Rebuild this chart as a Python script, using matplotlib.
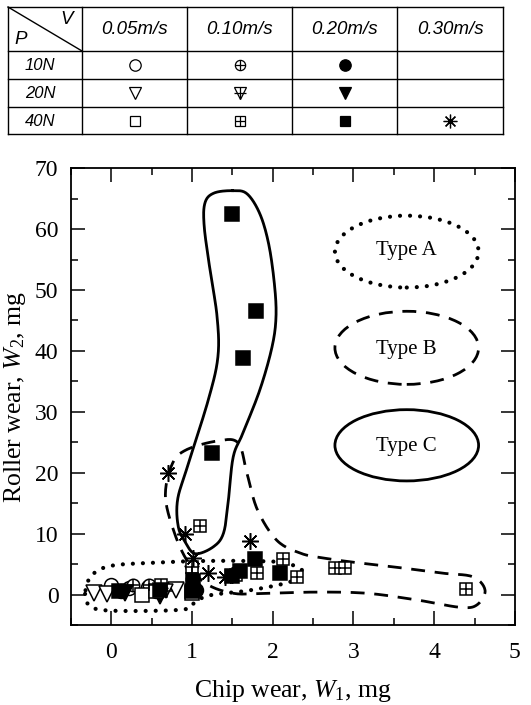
import numpy as np
import matplotlib.pyplot as plt
from matplotlib.patches import Ellipse

plt.rcParams['font.family'] = 'Liberation Serif'
plt.rcParams['mathtext.fontset'] = 'custom'
plt.rcParams['mathtext.rm'] = 'Liberation Serif'
plt.rcParams['mathtext.it'] = 'Liberation Serif:italic'

# table headings
speeds = ['0.05m/s', '0.10m/s', '0.20m/s', '0.30m/s']
loads = ['10N', '20N', '40N']

# chip wear W1 (x) and roller wear W2 (y), mg, per load / speed
p10_v05_x = [0.00, 0.22, 0.45]
p10_v05_y = [1.5, 1.0, 1.3]
p10_v10_x = [0.27, 0.47, 1.00]
p10_v10_y = [1.6, 1.5, 2.6]
p10_v20_x = [0.12, 0.55, 1.05]
p10_v20_y = [0.6, 0.5, 0.8]
p20_v05_x = [-0.22, -0.05, 0.80]
p20_v05_y = [0.2, 0.1, 0.7]
p20_v10_x = [0.68, 1.00]
p20_v10_y = [0.6, 3.6]
p20_v20_x = [0.17, 0.60]
p20_v20_y = [0.3, -0.3]
p40_v05_x = [0.38, 0.55, 1.00]
p40_v05_y = [0.0, 0.5, 0.2]
p40_v10_x = [0.62, 1.10, 1.00, 1.55, 1.80, 2.13, 2.30, 2.77, 2.89, 4.40]
p40_v10_y = [1.6, 11.2, 4.5, 3.2, 3.6, 5.8, 2.8, 4.4, 4.3, 0.85]
p40_v20_x = [1.49, 1.79, 1.63, 1.25, 1.78, 2.09, 1.59, 1.50, 1.01, 0.60, 0.10, 1.00]
p40_v20_y = [62.4, 46.5, 38.9, 23.2, 5.9, 3.6, 3.9, 3.0, 2.2, 0.8, 0.5, 0.5]
p40_v30_x = [0.70, 0.91, 1.72, 1.01, 1.20, 1.41, 1.50]
p40_v30_y = [19.9, 10.0, 8.8, 6.0, 3.6, 2.9, 3.2]

# hand drawn region outlines
typeA_x = [-0.32, -0.24, -0.01, 0.48, 1.10, 1.72, 2.15, 2.38, 2.22, 1.72, 1.23, 1.04, 0.92, 0.36, -0.14, -0.30]
typeA_y = [0.7, 3.2, 4.7, 5.2, 5.5, 5.5, 5.2, 3.7, 2.1, 0.7, -0.1, -1.2, -2.4, -2.7, -2.5, -1.4]
typeB_x = [0.67, 0.75, 0.92, 1.31, 1.57, 1.68, 1.81, 2.05, 2.34, 2.62, 3.00, 3.58, 4.11, 4.48, 4.63, 4.53,
           4.32, 3.79, 3.17, 2.55, 1.93, 1.51, 1.16, 0.95, 0.79]
typeB_y = [16.0, 21.3, 23.7, 25.2, 24.9, 19.9, 13.9, 8.9, 6.8, 6.0, 5.3, 4.4, 3.5, 2.9, 0.7, -1.7,
           -2.1, -0.9, 0.2, 0.4, 0.2, 0.2, 1.9, 5.3, 9.8]
typeC_x = [1.50, 1.68, 1.84, 1.95, 2.02, 2.04, 1.99, 1.84, 1.63, 1.51, 1.45, 1.39, 1.26, 1.04, 0.92, 0.83,
           0.82, 0.94, 1.20, 1.32, 1.31, 1.22, 1.15, 1.16, 1.27]
typeC_y = [66.3, 65.8, 62.5, 57.5, 51.0, 45.6, 40.6, 33.6, 26.5, 22.6, 15.5, 10.1, 7.8, 6.7, 8.5, 11.1,
           15.5, 20.9, 31.9, 39.0, 45.6, 53.5, 60.5, 64.3, 65.9]


def smooth_closed(xs, ys, n=14):
    # closed catmull-rom through the traced vertices
    p = np.column_stack([xs, ys])
    P = np.vstack([p[-1], p, p[0], p[1]])
    t = np.linspace(0, 1, n, endpoint=False)[:, None]
    out = []
    for i in range(1, len(p) + 1):
        p0, p1, p2, p3 = P[i - 1], P[i], P[i + 1], P[i + 2]
        out.append(0.5 * (2 * p1 + (-p0 + p2) * t + (2 * p0 - 5 * p1 + 4 * p2 - p3) * t ** 2
                          + (-p0 + 3 * p1 - 3 * p2 + p3) * t ** 3))
    out.append(out[0][:1])
    out = np.vstack(out)
    return out[:, 0], out[:, 1]


# (x, y, marker, filled, crossed, size, row, col)
series = [
    (p10_v05_x, p10_v05_y, 'o', False, False, 10, 0, 0),
    (p10_v10_x, p10_v10_y, 'o', False, True, 9, 0, 1),
    (p10_v20_x, p10_v20_y, 'o', True, False, 10, 0, 2),
    (p20_v05_x, p20_v05_y, 'v', False, False, 11, 1, 0),
    (p20_v10_x, p20_v10_y, 'v', False, True, 10, 1, 1),
    (p20_v20_x, p20_v20_y, 'v', True, False, 11, 1, 2),
    (p40_v05_x, p40_v05_y, 's', False, False, 9.5, 2, 0),
    (p40_v10_x, p40_v10_y, 's', False, True, 8.5, 2, 1),
    (p40_v20_x, p40_v20_y, 's', True, False, 9.5, 2, 2),
    (p40_v30_x, p40_v30_y, (8, 2, 0), False, False, 12, 2, 3),
]

fig = plt.figure(figsize=(5.31, 7.05), dpi=100)
ax = fig.add_axes([0.1337, 0.1135, 0.836, 0.648])

lw_outline = 2.0
xa, ya = smooth_closed(typeA_x, typeA_y)
ax.plot(xa, ya, color='black', lw=3.0, linestyle=(0, (0.01, 2.4)), dash_capstyle='round', zorder=1)
xb, yb = smooth_closed(typeB_x, typeB_y)
ax.plot(xb, yb, color='black', lw=lw_outline, linestyle=(0, (5, 3.5)), zorder=1)
xc, yc = smooth_closed(typeC_x, typeC_y)
ax.plot(xc, yc, color='black', lw=lw_outline, zorder=1)

for x, y, m, filled, crossed, ms, r, c in series:
    fc = 'black' if filled else 'white'
    ax.plot(x, y, linestyle='none', marker=m, ms=ms, mfc=fc, mec='black', mew=1.1, zorder=3)
    if crossed:
        ax.plot(x, y, linestyle='none', marker='+', ms=ms * 0.95, mec='black', mew=1.1, zorder=4)

# legend ellipses for the three types
ax.add_patch(Ellipse((3.66, 56.3), 1.78, 11.8, fill=False, lw=3.0, linestyle=(0, (0.01, 2.4)),
                     capstyle='round', edgecolor='black'))
ax.add_patch(Ellipse((3.66, 40.5), 1.78, 12.0, fill=False, lw=lw_outline, linestyle=(0, (5, 3.5)),
                     edgecolor='black'))
ax.add_patch(Ellipse((3.66, 24.5), 1.78, 11.7, fill=False, lw=lw_outline, edgecolor='black'))
ax.text(3.66, 56.5, 'Type A', ha='center', va='center', fontsize=15)
ax.text(3.66, 40.3, 'Type B', ha='center', va='center', fontsize=15)
ax.text(3.66, 24.3, 'Type C', ha='center', va='center', fontsize=15)

ax.set_xlim(-0.5, 5)
ax.set_ylim(-5, 70)
ax.set_xticks(range(0, 6))
ax.set_xticks(np.arange(-0.5, 5.01, 0.5), minor=True)
ax.set_yticks(range(0, 71, 10))
ax.set_yticks(range(-5, 71, 5), minor=True)
ax.tick_params(which='both', direction='in', top=True, right=True, width=1.1)
ax.tick_params(which='major', length=10, labelsize=17)
ax.tick_params(which='minor', length=5)
ax.tick_params(axis='x', pad=12)
ax.tick_params(axis='y', pad=9)
for s in ax.spines.values():
    s.set_linewidth(1.3)
ax.set_xlabel('Chip wear, $\\mathit{W}_{\\mathit{1}}$, mg', fontsize=18.5, labelpad=11)
ax.set_ylabel('Roller wear, $\\mathit{W}_{2}$, mg', fontsize=18.5, labelpad=5)

# key table on top, in pixel coordinates
tb = fig.add_axes([0, 0, 1, 1])
tb.set_xlim(0, 531)
tb.set_ylim(705, 0)
tb.axis('off')
col_edges = [8, 82, 187, 292, 397, 503]
row_edges = [7, 51, 79, 107, 134]
for xe in col_edges:
    tb.plot([xe, xe], [row_edges[0], row_edges[-1]], color='black', lw=1.0)
for ye in row_edges:
    tb.plot([col_edges[0], col_edges[-1]], [ye, ye], color='black', lw=1.0)
tb.plot([col_edges[0], col_edges[1]], [row_edges[0], row_edges[1]], color='black', lw=1.0)
hfont = dict(family='Liberation Sans', style='italic', fontsize=13.5)
rfont = dict(family='Liberation Sans', style='italic', fontsize=12)
tb.text(67, 19, 'V', ha='center', va='center', **hfont)
tb.text(21, 40, 'P', ha='center', va='center', **hfont)
for j, sp in enumerate(speeds):
    tb.text((col_edges[j + 1] + col_edges[j + 2]) / 2, (row_edges[0] + row_edges[1]) / 2, sp,
            ha='center', va='center', **hfont)
for i, ld in enumerate(loads):
    tb.text(40, (row_edges[i + 1] + row_edges[i + 2]) / 2 + 1, ld, ha='center', va='center', **rfont)
for x, y, m, filled, crossed, ms, r, c in series:
    cx = (col_edges[c + 1] + col_edges[c + 2]) / 2
    cy = (row_edges[r + 1] + row_edges[r + 2]) / 2
    fc = 'black' if filled else 'white'
    tb.plot([cx], [cy], marker=m, ms=ms * 0.82, mfc=fc, mec='black', mew=0.9, linestyle='none')
    if crossed:
        tb.plot([cx], [cy], marker='+', ms=ms * 0.8, mec='black', mew=0.9, linestyle='none')

fig.savefig('out.png', dpi=100)
